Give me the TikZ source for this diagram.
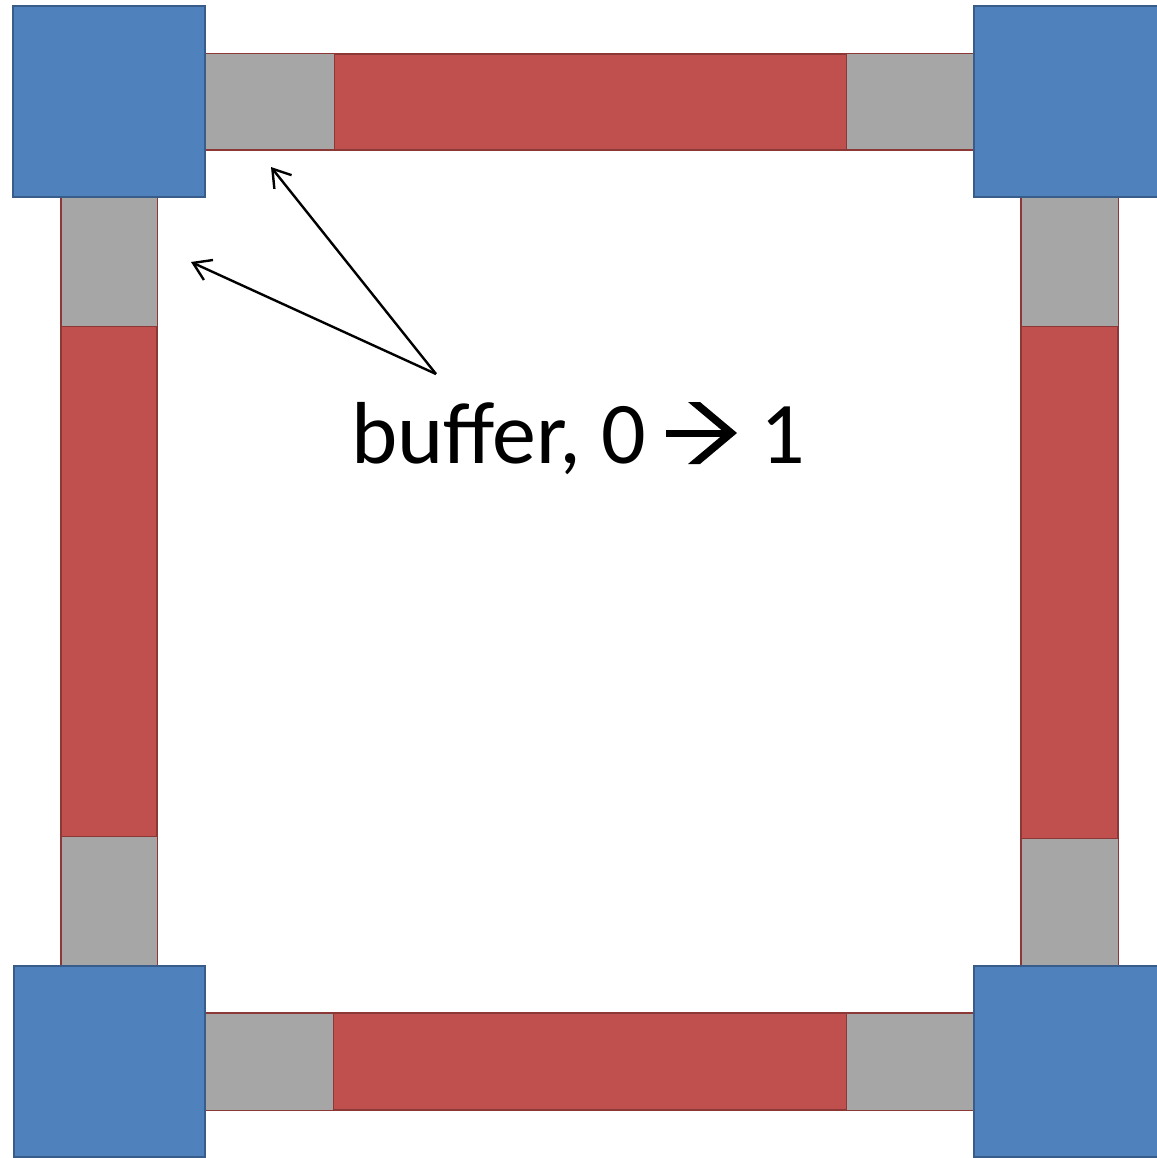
\documentclass[tikz,border=0pt]{standalone}
\usepackage{fontspec}
\setmainfont{Carlito}
\usetikzlibrary{arrows.meta}
\definecolor{bluefill}{HTML}{4F81BD}
\definecolor{blueline}{HTML}{385D8A}
\definecolor{redfill}{HTML}{C0504D}
\definecolor{redline}{HTML}{8C3836}
\definecolor{grayfill}{HTML}{A6A6A6}
\tikzset{
  router/.style={fill=bluefill,draw=blueline,line width=2.5pt},
  wire/.style={fill=redfill,draw=redline,line width=2pt},
  buf/.style={fill=grayfill,draw=redline,line width=1pt},
  pointer/.style={draw=black,line width=2.4pt,-{Straight Barb[length=17pt,width=22pt,line width=2.4pt]}},
  bigtext/.style={anchor=base west,inner sep=0pt,font=\fontsize{88}{100}\selectfont},
  glyph/.style={fill=black,draw=none}
}
\begin{document}
\begin{tikzpicture}[x=1pt,y=-1pt]
\useasboundingbox (0,0) rectangle (1156,1158);
% wires
\draw[wire] (205,54) rectangle (974,150);
\draw[wire] (205,1013) rectangle (974,1110);
\draw[wire] (61,197) rectangle (157,966);
\draw[wire] (1021,197) rectangle (1118,966);
% buffers
\draw[buf] (205,54) rectangle (334,150);
\draw[buf] (846,54) rectangle (974,150);
\draw[buf] (205,1013) rectangle (333,1110);
\draw[buf] (846,1013) rectangle (974,1110);
\draw[buf] (61,197) rectangle (157,326);
\draw[buf] (61,836) rectangle (157,966);
\draw[buf] (1021,197) rectangle (1118,326);
\draw[buf] (1021,838) rectangle (1118,966);
% routers
\draw[router] (13,6) rectangle (205,197);
\draw[router] (974,6) rectangle (1160,197);
\draw[router] (14,966) rectangle (205,1157);
\draw[router] (974,966) rectangle (1160,1157);
% label
\node[bigtext] (lblA) at (351,463) {buffer, 0};
\node[bigtext] (lblB) at (760,463) {1};
\fill[glyph] (666,429.5) rectangle (727,436.5);
\fill[glyph] (688,402) -- (700,402) -- (737,433) -- (700,464) -- (688,464) -- (725,433) -- cycle;
\coordinate (src) at (436,374);
\coordinate (bufA) at (271,167);
\coordinate (bufB) at (191,262);
\draw[pointer] (src) -- (bufA);
\draw[pointer] (src) -- (bufB);
\end{tikzpicture}
\end{document}
